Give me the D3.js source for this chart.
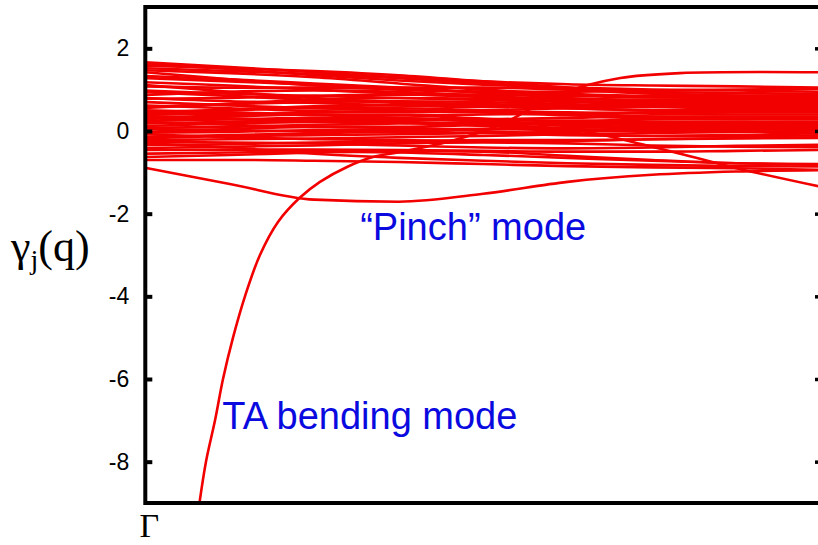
<!DOCTYPE html>
<html>
<head>
<meta charset="utf-8">
<script src="https://cdn.jsdelivr.net/npm/d3@7"></script>
<style>
  html, body { margin: 0; padding: 0; background: #fff; }
  svg { display: block; }
</style>
</head>
<body>
<svg id="chart" width="818" height="545"></svg>
<script>
// ---- data ----
const qGrid = [0, 0.125, 0.25, 0.375, 0.5, 0.625, 0.75, 0.875, 1];

const branchValues = [
  [1.66, 1.55, 1.42, 1.30, 1.20, 1.13, 1.10, 1.08, 1.05],
  [1.62, 1.50, 1.35, 1.22, 1.12, 1.05, 1.00, 0.98, 0.95],
  [1.58, 1.52, 1.45, 1.35, 1.20, 1.05, 0.92, 0.85, 0.82],
  [1.52, 1.45, 1.38, 1.28, 1.15, 1.02, 0.95, 0.92, 0.90],
  [1.47, 1.40, 1.30, 1.15, 1.00, 0.90, 0.85, 0.85, 0.88],
  [1.42, 1.25, 1.10, 1.00, 0.95, 0.95, 0.98, 1.00, 1.02],
  [1.33, 1.25, 1.15, 1.05, 0.92, 0.80, 0.72, 0.70, 0.72],
  [1.18, 1.10, 1.00, 0.90, 0.82, 0.78, 0.76, 0.76, 0.78],
  [1.11, 0.95, 0.80, 0.70, 0.65, 0.62, 0.62, 0.65, 0.68],
  [1.08, 1.05, 1.05, 1.02, 0.95, 0.88, 0.82, 0.80, 0.80],
  [0.94, 0.85, 0.75, 0.68, 0.62, 0.55, 0.50, 0.50, 0.52],
  [0.87, 0.95, 0.98, 0.95, 0.85, 0.75, 0.65, 0.60, 0.58],
  [0.80, 0.72, 0.68, 0.62, 0.58, 0.58, 0.60, 0.62, 0.62],
  [0.78, 0.80, 0.85, 0.88, 0.88, 0.85, 0.82, 0.82, 0.85],
  [0.70, 0.62, 0.55, 0.50, 0.48, 0.45, 0.42, 0.40, 0.40],
  [0.62, 0.55, 0.48, 0.45, 0.50, 0.55, 0.58, 0.62, 0.65],
  [0.58, 0.65, 0.70, 0.72, 0.70, 0.65, 0.58, 0.55, 0.55],
  [0.56, 0.66, 0.76, 0.80, 0.78, 0.72, 0.70, 0.72, 0.75],
  [0.50, 0.45, 0.40, 0.38, 0.40, 0.42, 0.45, 0.45, 0.45],
  [0.45, 0.52, 0.60, 0.62, 0.60, 0.55, 0.50, 0.48, 0.48],
  [0.43, 0.50, 0.55, 0.55, 0.50, 0.42, 0.35, 0.30, 0.28],
  [0.36, 0.30, 0.25, 0.25, 0.28, 0.32, 0.35, 0.35, 0.35],
  [0.32, 0.38, 0.45, 0.48, 0.45, 0.38, 0.30, 0.28, 0.30],
  [0.29, 0.35, 0.40, 0.38, 0.30, 0.22, 0.18, 0.18, 0.20],
  [0.25, 0.28, 0.32, 0.30, 0.25, 0.15, 0.08, 0.00, -0.05],
  [0.22, 0.15, 0.10, 0.10, 0.15, 0.20, 0.22, 0.22, 0.22],
  [0.18, 0.22, 0.28, 0.30, 0.28, 0.25, 0.28, 0.30, 0.32],
  [0.12, 0.18, 0.22, 0.20, 0.12, 0.05, 0.02, 0.05, 0.08],
  [0.08, 0.10, 0.15, 0.18, 0.20, 0.18, 0.15, 0.15, 0.15],
  [0.05, 0.02, 0.00, 0.02, 0.05, 0.08, 0.10, 0.10, 0.12],
  [-0.02, 0.05, 0.10, 0.08, 0.00, -0.08, -0.12, -0.12, -0.10],
  [-0.04, -0.02, 0.02, 0.05, 0.05, 0.02, 0.00, 0.02, 0.05],
  [-0.08, -0.15, -0.20, -0.22, -0.25, -0.24, -0.20, -0.17, -0.15],
  [-0.14, -0.10, -0.05, -0.02, -0.05, -0.10, -0.12, -0.10, -0.05],
  [-0.18, -0.12, -0.10, -0.08, -0.05, -0.02, 0.02, 0.05, 0.06],
  [-0.22, -0.20, -0.18, -0.15, -0.12, -0.08, -0.05, -0.02, 0.00],
  [-0.26, -0.28, -0.30, -0.35, -0.40, -0.42, -0.40, -0.36, -0.33],
  [-0.30, -0.40, -0.55, -0.65, -0.72, -0.78, -0.82, -0.85, -0.86],
  [-0.34, -0.32, -0.28, -0.25, -0.22, -0.22, -0.20, -0.18, -0.17],
  [-0.41, -0.38, -0.35, -0.30, -0.28, -0.30, -0.35, -0.38, -0.39],
  [-0.46, -0.45, -0.45, -0.46, -0.48, -0.50, -0.50, -0.48, -0.46],
  [-0.55, -0.52, -0.50, -0.52, -0.58, -0.65, -0.72, -0.78, -0.82],
  [-0.63, -0.58, -0.52, -0.48, -0.50, -0.60, -0.70, -0.78, -0.80],
  [-0.70, -0.70, -0.72, -0.75, -0.80, -0.85, -0.88, -0.90, -0.94],
  [0.35, 0.30, 0.25, 0.20, 0.15, 0.05, -0.38, -0.90, -1.35],
  [1.28, 1.20, 1.12, 1.05, 1.05, 1.00, 0.90, 0.86, 0.86],
  [0.98, 0.90, 0.85, 0.80, 0.75, 0.70, 0.66, 0.66, 0.70],
  [0.40, 0.42, 0.38, 0.32, 0.22, 0.12, 0.05, 0.06, 0.10]
];

// "Pinch" mode branch
const pinchValues = [-0.89, -1.28, -1.66, -1.71, -1.52, -1.23, -1.06, -0.98, -0.95];

// TA bending mode branch (diverges near Gamma)
const taQ      = [0.0784, 0.0898, 0.1032, 0.1150, 0.1298, 0.1475, 0.1697, 0.1964, 0.2289, 0.2585, 0.2985, 0.3370, 0.3770, 0.451, 0.525, 0.614, 0.703, 0.791, 1.0];
const taValues = [-9.2, -8.0, -7.0, -6.0, -5.0, -4.0, -3.0, -2.2, -1.61, -1.23, -0.87, -0.63, -0.51, -0.25, 0.15, 0.90, 1.28, 1.40, 1.42];

const yTicks = [2, 0, -2, -4, -6, -8];
const yDomain = [-9, 3];
const xDomain = [0, 1];
const xTickLabel = "Γ";
const yAxisLabel = { main: "γ", sub: "j", rest: "(q)" };
const annotations = [
  { text: "“Pinch” mode", q: 0.318, v: -2.64 },
  { text: "TA bending mode", q: 0.114, v: -7.22 }
];

// ---- drawing ----
const svg = d3.select("#chart");
const plotL = 145.3, plotR = 821, plotT = 7, plotB = 503;

const x = d3.scaleLinear().domain(xDomain).range([plotL, plotR]);
const y = d3.scaleLinear().domain(yDomain).range([plotB, plotT]);

svg.append("defs").append("clipPath").attr("id", "plotclip")
  .append("rect").attr("x", plotL).attr("y", plotT)
  .attr("width", plotR - plotL).attr("height", plotB - plotT);

const plot = svg.append("g").attr("clip-path", "url(#plotclip)");
const line = d3.line().x(d => x(d[0])).y(d => y(d[1])).curve(d3.curveMonotoneX);
const smoothLine = d3.line().x(d => x(d[0])).y(d => y(d[1])).curve(d3.curveCatmullRom.alpha(0.5));

const red = "#f20000";
const lw = 2.6;
plot.append("path")
  .attr("d", smoothLine(taValues.map((v, i) => [taQ[i], v])))
  .attr("fill", "none").attr("stroke", red).attr("stroke-width", lw);
branchValues.forEach(vals => {
  plot.append("path")
    .attr("d", line(vals.map((v, i) => [qGrid[i], v])))
    .attr("fill", "none").attr("stroke", red).attr("stroke-width", lw);
});
plot.append("path")
  .attr("d", line(pinchValues.map((v, i) => [qGrid[i], v])))
  .attr("fill", "none").attr("stroke", red).attr("stroke-width", lw);

// left axis (ticks point inward)
const yAxis = d3.axisLeft(y).tickValues(yTicks).tickSizeInner(-7).tickSizeOuter(0).tickPadding(16)
  .tickFormat(d => String(d));
const gy = svg.append("g").attr("transform", `translate(${plotL},0)`).call(yAxis);
gy.select(".domain").remove();
gy.selectAll(".tick line").attr("stroke", "#000").attr("stroke-width", 4);
gy.selectAll(".tick text")
  .attr("font-family", "'Liberation Sans', Arial, Helvetica, sans-serif")
  .attr("font-size", 23).attr("fill", "#000");

// right axis mirror ticks
const yAxisR = d3.axisRight(y).tickValues(yTicks).tickSizeInner(-6).tickSizeOuter(0).tickFormat("");
const gyr = svg.append("g").attr("transform", `translate(${plotR},0)`).call(yAxisR);
gyr.select(".domain").remove();
gyr.selectAll(".tick line").attr("stroke", "#000").attr("stroke-width", 3.5);

// frame
svg.append("rect").attr("x", plotL).attr("y", plotT)
  .attr("width", plotR - plotL).attr("height", plotB - plotT)
  .attr("fill", "none").attr("stroke", "#000").attr("stroke-width", 4);

// x label Gamma
svg.append("text").attr("x", x(0) + 4).attr("y", 537)
  .attr("text-anchor", "middle")
  .attr("font-family", "'Liberation Serif', 'Times New Roman', serif")
  .attr("font-size", 34).attr("fill", "#000").text(xTickLabel);

// y label
const yl = svg.append("text").attr("x", 11).attr("y", 261)
  .attr("font-family", "'Liberation Serif', 'Times New Roman', serif")
  .attr("font-size", 44).attr("fill", "#000");
yl.append("tspan").text(yAxisLabel.main);
yl.append("tspan").attr("font-size", 28).attr("dy", 8).text(yAxisLabel.sub);
yl.append("tspan").attr("dy", -8).text(yAxisLabel.rest);

// annotations
annotations.forEach(a => {
  svg.append("text").attr("x", x(a.q)).attr("y", y(a.v))
    .attr("font-family", "'Liberation Sans', Arial, Helvetica, sans-serif")
    .attr("font-size", 38).attr("fill", "#0a0ae0").text(a.text);
});
</script>
</body>
</html>
